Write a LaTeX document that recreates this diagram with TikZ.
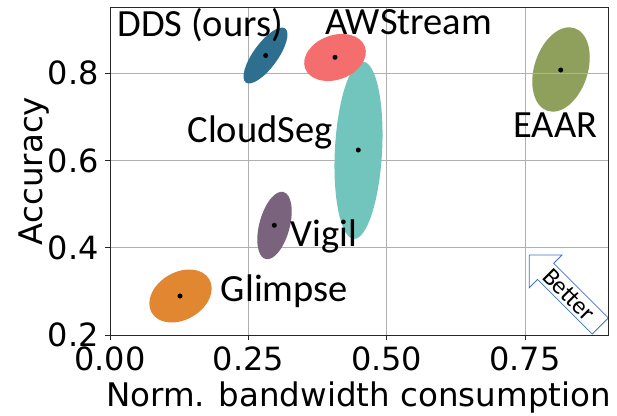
\documentclass[tikz,border=0pt]{standalone}
\usepackage{fontspec}
\newfontfamily\labelfont{Carlito}
\newfontfamily\axisfont{DejaVu Sans}
\definecolor{ddscol}{HTML}{2E6E8E}
\definecolor{awscol}{HTML}{F46E6E}
\definecolor{cloudcol}{HTML}{72C5BC}
\definecolor{vigilcol}{HTML}{7A647D}
\definecolor{eaarcol}{HTML}{8EA05C}
\definecolor{glimpsecol}{HTML}{E18732}
\definecolor{gridcol}{HTML}{B0B0B0}
\definecolor{arrowcol}{HTML}{4472C4}
\tikzset{
  gridline/.style={draw=gridcol, line width=0.9pt},
  frameline/.style={draw=black!85, line width=1pt},
  tickmark/.style={draw=black!85, line width=1pt},
  ticklabel/.style={font=\axisfont\fontsize{32}{34}\selectfont, inner sep=0pt},
  axislabel/.style={font=\axisfont\fontsize{32.5}{35}\selectfont, inner sep=0pt},
  method/.style={font=\labelfont\fontsize{38.5}{40}\selectfont, inner sep=0pt, anchor=base west},
  meanpt/.style={circle, fill=black, inner sep=0pt, minimum size=5pt},
}
\begin{document}
\begin{tikzpicture}[x=1pt, y=-1pt]
\useasboundingbox (0,0) rectangle (617,415);
\fill[white] (0,0) rectangle (617,415);

% plot area corners
\coordinate (ll) at (110,335);
\coordinate (ur) at (608,7);

% ellipse centres (bandwidth, accuracy)
\coordinate (cdds) at (265.5,55.5);
\coordinate (caws) at (335,57.5);
\coordinate (ccloud) at (358.5,150.3);
\coordinate (cvigil) at (274.5,225.5);
\coordinate (ceaar) at (561,69.5);
\coordinate (cglimpse) at (180.5,296);

% EAAR spread sits under the grid
\fill[eaarcol, rotate around={72:(ceaar)}] (ceaar) ellipse [x radius=43.5, y radius=26.7];

% grid
\foreach \gx in {248.3,386.7,525} \draw[gridline] (\gx,7) -- (\gx,335);
\foreach \gy in {73,160.3,247.7} \draw[gridline] (110,\gy) -- (608,\gy);

% spreads of the other methods
\fill[cloudcol, rotate around={87:(ccloud)}] (ccloud) ellipse [x radius=88.7, y radius=23.6];
\fill[awscol, rotate around={20:(caws)}] (caws) ellipse [x radius=31.8, y radius=22.2];
\fill[ddscol, rotate around={54:(cdds)}] (cdds) ellipse [x radius=33.4, y radius=12.2];
\fill[vigilcol, rotate around={75:(cvigil)}] (cvigil) ellipse [x radius=34.7, y radius=15.2];
\fill[glimpsecol, rotate around={30:(cglimpse)}] (cglimpse) ellipse [x radius=33.3, y radius=23.8];

% mean points
\node[meanpt] (pdds) at (265.7,55.5) {};
\node[meanpt] (paws) at (335,57.3) {};
\node[meanpt] (pcloud) at (358.3,150) {};
\node[meanpt] (pvigil) at (274.3,225.3) {};
\node[meanpt] (peaar) at (560.7,70) {};
\node[meanpt] (pglimpse) at (180,296) {};

% method names
\node[method] (ldds) at (117.3,36) {DDS (ours)};
\node[method] (laws) at (325,34) {AWStream};
\node[method] (lcloud) at (187.3,142.7) {CloudSeg};
\node[method] (leaar) at (513.3,137.7) {EAAR};
\node[method] (lvigil) at (290.7,246.7) {Vigil};
\node[method] (lglimpse) at (220.7,301) {Glimpse};

% "Better" arrow pointing to the upper left
\begin{scope}[shift={(529.3,255)}, rotate=-45]
  \draw[draw=arrowcol, fill=white, line width=0.8pt, line join=miter]
    (0,0) -- (23.1,23.1) -- (23.1,11.4) -- (100.4,11.4) -- (100.4,-11.4)
    -- (23.1,-11.4) -- (23.1,-23.1) -- cycle;
  \node[font=\labelfont\fontsize{25}{27}\selectfont, inner sep=0pt, rotate=-45] (better) at (56,0) {Better};
\end{scope}

% frame
\draw[frameline] (ll) rectangle (ur);

% ticks and tick labels
\foreach \tx/\tl in {110/0.00,248.3/0.25,386.7/0.50,525/0.75} {
  \draw[tickmark] (\tx,335) -- (\tx,340);
  \node[ticklabel, anchor=base] at (\tx,370) {\tl};
}
\foreach \ty/\tl in {335/0.2,247.7/0.4,160.3/0.6,73/0.8} {
  \draw[tickmark] (105,\ty) -- (110,\ty);
  \node[ticklabel, anchor=base east] at (99,\ty+11.7) {\tl};
}

% axis titles
\node[axislabel, anchor=base] (xlab) at (358.5,406) {Norm. bandwidth consumption};
\node[axislabel, anchor=base, rotate=90] (ylab) at (42,171) {Accuracy};
\end{tikzpicture}
\end{document}
